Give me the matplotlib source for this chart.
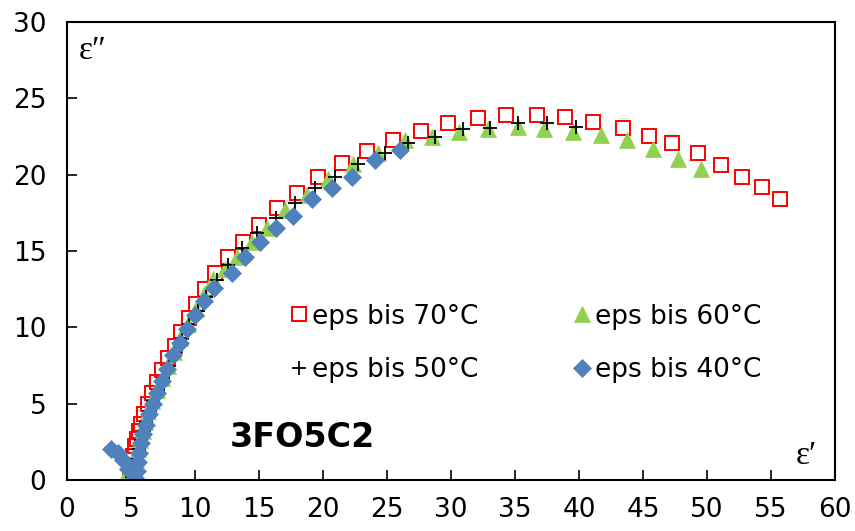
import numpy as np
import matplotlib
matplotlib.use("Agg")
import matplotlib.pyplot as plt

# eps' / eps'', one pair of lists per temperature
x70 = [4.9, 5.0, 5.15, 5.3, 5.45, 5.6, 5.8, 6.0, 6.3, 6.6, 7.0, 7.4, 7.9, 8.4, 8.9,
       9.5, 10.1, 10.8, 11.56, 12.58, 13.75, 14.98, 16.41, 17.97, 19.61, 21.48,
       23.44, 25.47, 27.66, 29.77, 32.1, 34.3, 36.7, 38.9, 41.1, 43.4, 45.5, 47.3,
       49.3, 51.1, 52.7, 54.3, 55.7]
y70 = [0.3, 1.0, 1.6, 2.2, 2.7, 3.2, 3.7, 4.3, 5.0, 5.7, 6.4, 7.2, 8.0, 8.8, 9.7,
       10.6, 11.5, 12.5, 13.56, 14.6, 15.59, 16.7, 17.8, 18.8, 19.84, 20.76,
       21.55, 22.27, 22.86, 23.38, 23.7, 23.9, 23.9, 23.75, 23.45, 23.05, 22.53,
       22.07, 21.42, 20.63, 19.84, 19.19, 18.4]

x60 = [4.8, 5.1, 5.25, 5.4, 5.55, 5.7, 5.9, 6.1, 6.35, 6.65, 7.0, 7.4, 7.85, 8.35,
       8.85, 9.45, 10.05, 10.7, 11.4, 12.34, 13.28, 14.45, 15.63, 17.03, 18.75,
       20.39, 22.34, 24.3, 26.4, 28.5, 30.6, 32.9, 35.2, 37.3, 39.5, 41.7, 43.75,
       45.8, 47.7, 49.5]
y60 = [0.6, 0.1, 0.8, 1.4, 2.0, 2.6, 3.2, 3.8, 4.5, 5.2, 5.9, 6.7, 7.5, 8.4, 9.3,
       10.2, 11.2, 12.2, 13.2, 13.85, 14.6, 15.6, 16.5, 17.7, 18.7, 19.7, 20.7,
       21.4, 22.3, 22.5, 22.8, 23.0, 23.15, 23.0, 22.8, 22.6, 22.3, 21.7, 21.05,
       20.4]

x50 = [5.1, 5.3, 5.45, 5.6, 5.8, 6.0, 6.2, 6.45, 6.75, 7.1, 7.5, 7.95, 8.45, 8.95,
       9.55, 10.2, 10.85, 11.7, 12.58, 13.67, 14.84, 16.33, 17.81, 19.38, 20.94,
       22.73, 24.84, 26.64, 28.75, 30.94, 33.05, 35.23, 37.5, 39.77]
y50 = [0.2, 0.8, 1.4, 2.0, 2.6, 3.2, 3.8, 4.5, 5.2, 5.9, 6.7, 7.5, 8.4, 9.3, 10.2,
       11.1, 12.0, 13.1, 14.08, 15.19, 16.17, 17.16, 18.14, 19.12, 19.84, 20.69,
       21.41, 22.07, 22.46, 22.99, 23.05, 23.38, 23.38, 23.1]

x40 = [3.4, 4.0, 4.4, 4.8, 5.3, 5.5, 5.55, 5.65, 5.8, 5.95, 6.15, 6.4, 6.7, 7.0,
       7.4, 7.8, 8.3, 8.8, 9.4, 10.0, 10.7, 11.5, 12.89, 13.9, 15.08, 16.33,
       17.66, 19.14, 20.7, 22.27, 24.06, 26.02]
y40 = [2.0, 1.8, 1.3, 0.7, 0.1, 0.6, 1.2, 1.8, 2.4, 3.0, 3.6, 4.3, 5.0, 5.7, 6.5,
       7.3, 8.2, 9.0, 9.9, 10.8, 11.7, 12.6, 13.56, 14.6, 15.59, 16.5, 17.29,
       18.4, 19.12, 19.84, 20.96, 21.6]

labels = ["eps bis 70°C", "eps bis 60°C", "eps bis 50°C", "eps bis 40°C"]

fig = plt.figure(figsize=(8.55, 5.31), dpi=100)
ax = fig.add_axes([0.0784, 0.096, 0.8982, 0.8625])

h70, = ax.plot(x70, y70, ls="none", marker="s", ms=9.5, mfc="none",
               mec="#FF0000", mew=1.4, label=labels[0])
h60, = ax.plot(x60, y60, ls="none", marker="^", ms=11.5, mfc="#92D050",
               mec="#92D050", mew=0.5, label=labels[1])
h50, = ax.plot(x50, y50, ls="none", marker="+", ms=10, mec="black",
               mew=1.3, label=labels[2])
h40, = ax.plot(x40, y40, ls="none", marker="D", ms=9, mfc="#4F81BD",
               mec="#4F81BD", mew=0.5, label=labels[3])

ax.set_xlim(0, 60)
ax.set_ylim(0, 30)
ax.set_xticks(np.arange(0, 61, 5))
ax.set_yticks(np.arange(0, 31, 5))
ax.tick_params(direction="in", length=7, width=1.2, labelsize=19)
ax.tick_params(axis="x", pad=12)
ax.tick_params(axis="y", pad=15)
for s in ax.spines.values():
    s.set_linewidth(1.5)

ax.text(0.9, 28.1, "ε″", fontsize=24, family=["Liberation Serif", "DejaVu Serif"],
        va="center", ha="left")
ax.text(56.9, 1.6, "ε′", fontsize=24, family=["Liberation Serif", "DejaVu Serif"],
        va="center", ha="left")
ax.text(18.4, 2.8, "3FO5C2", fontsize=24, fontweight="bold", ha="center", va="center")

# legend fills column by column, so 70/50 go in the left column
ax.legend(handles=[h70, h50, h60, h40], ncol=2, loc="center",
          bbox_to_anchor=(0.598, 0.298), frameon=False, fontsize=19,
          handlelength=0.6, handletextpad=0.2, columnspacing=3.6,
          labelspacing=1.05, borderpad=0, borderaxespad=0)

fig.savefig("out.png", dpi=100)
